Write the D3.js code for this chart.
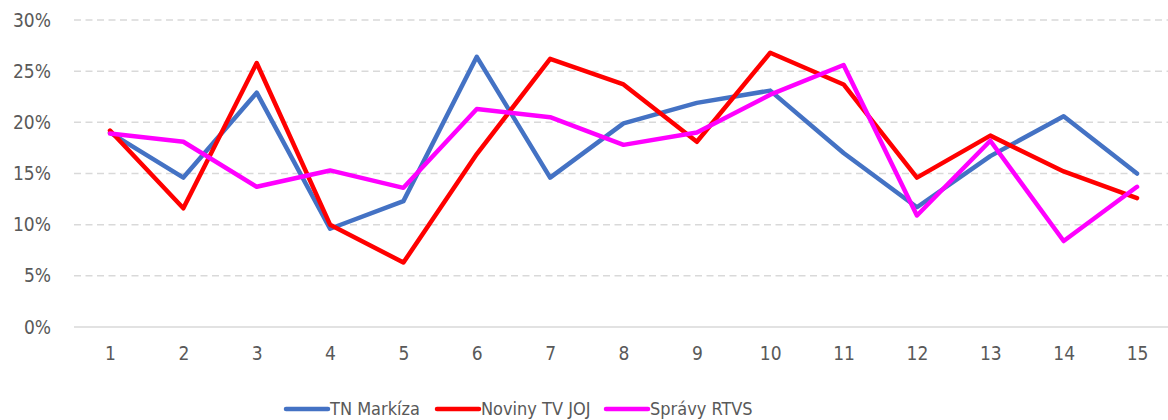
<!DOCTYPE html>
<html>
<head>
<meta charset="utf-8">
<script src="https://cdn.jsdelivr.net/npm/d3@7"></script>
<style>
  html, body { margin: 0; padding: 0; background: #fff; }
  svg { display: block; }
  text { font-family: "Liberation Sans Narrow", "DejaVu Sans Condensed", "Liberation Sans", sans-serif; fill: #595959; }
</style>
</head>
<body>
<svg id="chart" width="1168" height="420"></svg>
<script>
const categories = ["1","2","3","4","5","6","7","8","9","10","11","12","13","14","15"];
const tnMarkiza  = [0.190, 0.146, 0.229, 0.096, 0.123, 0.264, 0.146, 0.199, 0.219, 0.231, 0.170, 0.117, 0.167, 0.206, 0.150];
const novinyJOJ  = [0.192, 0.116, 0.258, 0.100, 0.063, 0.169, 0.262, 0.237, 0.181, 0.268, 0.237, 0.146, 0.187, 0.152, 0.126];
const spravyRTVS = [0.189, 0.181, 0.137, 0.153, 0.136, 0.213, 0.205, 0.178, 0.190, 0.227, 0.256, 0.109, 0.182, 0.084, 0.137];
const seriesNames = ["TN Markíza", "Noviny TV JOJ", "Správy RTVS"];
const seriesColors = ["#4472C4", "#FF0000", "#FF00FF"];
const yTicks = [0, 0.05, 0.10, 0.15, 0.20, 0.25, 0.30];

const series = [tnMarkiza, novinyJOJ, spravyRTVS].map((vals, i) => ({
  name: seriesNames[i], color: seriesColors[i], values: vals
}));

const svg = d3.select("#chart");

const x = d3.scalePoint().domain(categories).range([73.3, 1173.7]).padding(0.5);
const y = d3.scaleLinear().domain([0, 0.3]).range([327, 20]);

// gridlines
const grid = svg.append("g");
grid.selectAll("line").data(yTicks).join("line")
  .attr("x1", 74).attr("x2", 1168)
  .attr("y1", d => y(d)).attr("y2", d => y(d))
  .attr("stroke", "#D9D9D9")
  .attr("stroke-width", 1.5)
  .attr("stroke-dasharray", d => d === 0 ? null : "7,4.5");

// y axis labels
const yAxis = d3.axisLeft(y).tickValues(yTicks).tickFormat(d3.format(".0%")).tickSize(0).tickPadding(0);
const gy = svg.append("g").attr("transform", "translate(51,0)").call(yAxis);
gy.select(".domain").remove();
gy.selectAll("text").style("font-size", "19px").attr("fill", "#595959")
  .style("font-family", '"Liberation Sans Narrow", "DejaVu Sans Condensed", "Liberation Sans", sans-serif');

// x axis labels
const xAxis = d3.axisBottom(x).tickSize(0).tickPadding(0);
const gx = svg.append("g").attr("transform", "translate(0,346)").call(xAxis);
gx.select(".domain").remove();
gx.selectAll("text").style("font-size", "19px").attr("fill", "#595959")
  .style("font-family", '"Liberation Sans Narrow", "DejaVu Sans Condensed", "Liberation Sans", sans-serif');

// lines
const line = d3.line().x((d, i) => x(categories[i])).y(d => y(d));
svg.append("g").selectAll("path").data(series).join("path")
  .attr("d", d => line(d.values))
  .attr("fill", "none")
  .attr("stroke", d => d.color)
  .attr("stroke-width", 4.5)
  .attr("stroke-linejoin", "round")
  .attr("stroke-linecap", "round");

// legend
const legendX = [286, 437, 606];
const lg = svg.append("g");
series.forEach((s, i) => {
  const g = lg.append("g").attr("transform", `translate(${legendX[i]},409)`);
  g.append("line").attr("x1", 0).attr("x2", 42).attr("y1", 0).attr("y2", 0)
    .attr("stroke", s.color).attr("stroke-width", 4.5).attr("stroke-linecap", "round");
  g.append("text").attr("x", 44).attr("y", 6).style("font-size", "18px").text(s.name);
});
</script>
</body>
</html>
